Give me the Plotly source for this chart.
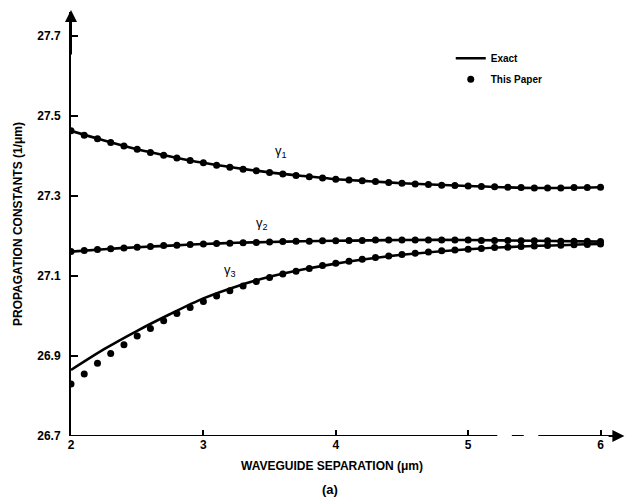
import plotly.graph_objects as go

# ---- data ----
x_dots = [round(2.0 + 0.1 * i, 1) for i in range(41)]

g1_dots = [27.463, 27.452, 27.443, 27.434, 27.425, 27.417, 27.409, 27.402, 27.395, 27.389,
           27.383, 27.377, 27.372, 27.367, 27.363, 27.359, 27.355, 27.351, 27.348, 27.345,
           27.342, 27.340, 27.338, 27.336, 27.334, 27.332, 27.330, 27.329, 27.327, 27.326,
           27.325, 27.324, 27.323, 27.322, 27.321, 27.320, 27.320, 27.320, 27.321, 27.321,
           27.322]
g2_dots = [27.161, 27.164, 27.166, 27.168, 27.170, 27.172, 27.174, 27.176, 27.177, 27.179,
           27.180, 27.181, 27.182, 27.183, 27.184, 27.185, 27.186, 27.187, 27.187, 27.188,
           27.188, 27.189, 27.189, 27.190, 27.190, 27.190, 27.190, 27.190, 27.190, 27.190,
           27.190, 27.189, 27.189, 27.189, 27.188, 27.188, 27.188, 27.187, 27.187, 27.187,
           27.186]
g3_dots = [26.830, 26.855, 26.882, 26.906, 26.928, 26.950, 26.969, 26.988, 27.006, 27.021,
           27.036, 27.050, 27.063, 27.075, 27.086, 27.096, 27.105, 27.112, 27.119, 27.126,
           27.132, 27.137, 27.142, 27.146, 27.150, 27.154, 27.157, 27.160, 27.163, 27.165,
           27.167, 27.169, 27.171, 27.172, 27.174, 27.175, 27.176, 27.177, 27.178, 27.179,
           27.180]

x_exact = [2.0, 2.25, 2.5, 2.75, 3.0, 3.25, 3.5, 3.75, 4.0, 4.25, 4.5, 5.0, 5.5, 6.0]
g1_exact = [27.463, 27.439, 27.417, 27.399, 27.383, 27.370, 27.359, 27.350, 27.342, 27.337,
            27.332, 27.325, 27.320, 27.322]
g2_exact = [27.161, 27.167, 27.172, 27.176, 27.180, 27.183, 27.185, 27.187, 27.188, 27.189,
            27.190, 27.190, 27.188, 27.186]
g3_exact = [26.865, 26.917, 26.963, 27.005, 27.044, 27.074, 27.098, 27.116, 27.131, 27.143,
            27.153, 27.167, 27.175, 27.180]

x_ticks = [2, 3, 4, 5, 6]
y_ticks = [26.7, 26.9, 27.1, 27.3, 27.5, 27.7]
y_tick_text = ["26.7", "26.9", "27.1", "27.3", "27.5", "27.7"]

curve_labels = ["γ<sub>1</sub>", "γ<sub>2</sub>", "γ<sub>3</sub>"]
label_x = [3.59, 3.44, 3.20]
label_y = [27.412, 27.232, 27.115]

# x-axis drawn with a break between 5.22 and 5.53
axis_segments = [(2.0, 5.22), (5.33, 5.42), (5.53, 6.16)]

FONT = "Liberation Sans"

fig = go.Figure()

exact_sets = [g1_exact, g2_exact, g3_exact]
dot_sets = [g1_dots, g2_dots, g3_dots]

for i, ys in enumerate(exact_sets):
    fig.add_trace(go.Scatter(
        x=x_exact, y=ys, mode="lines",
        line=dict(color="black", width=2.6, shape="spline", smoothing=0.8),
        name="Exact", legendgroup="exact", showlegend=(i == 0)))

for i, ys in enumerate(dot_sets):
    fig.add_trace(go.Scatter(
        x=x_dots, y=ys, mode="markers", marker=dict(color="black", size=7),
        name="This Paper", legendgroup="paper", showlegend=(i == 0)))

for t, lx, ly in zip(curve_labels, label_x, label_y):
    fig.add_annotation(x=lx, y=ly, text=t, showarrow=False,
                       font=dict(family=FONT, size=13, color="black"))

for x0, x1 in axis_segments:
    fig.add_shape(type="line", x0=x0, x1=x1, y0=26.7, y1=26.7, xref="x", yref="y",
                  line=dict(color="black", width=2))

# arrowheads on the axes
fig.add_annotation(x=6.18, y=26.7, ax=6.05, ay=26.7, axref="x", ayref="y", xref="x", yref="y",
                   text="", showarrow=True, arrowhead=2, arrowsize=1.2, arrowwidth=2,
                   arrowcolor="black")
fig.add_annotation(x=2.0, y=27.765, ax=2.0, ay=27.65, axref="x", ayref="y", xref="x", yref="y",
                   text="", showarrow=True, arrowhead=2, arrowsize=1.2, arrowwidth=2,
                   arrowcolor="black")

fig.add_annotation(x=0.469, y=-0.07, xref="paper", yref="paper", yanchor="middle",
                   text="WAVEGUIDE SEPARATION (μm)", showarrow=False,
                   font=dict(family=FONT, size=12, color="black", weight="bold"))
fig.add_annotation(x=0.466, y=-0.127, xref="paper", yref="paper", yanchor="middle",
                   text="(a)", showarrow=False,
                   font=dict(family=FONT, size=13, color="black", weight="bold"))

fig.update_xaxes(range=[2, 6.2], tickvals=x_ticks, ticktext=[str(v) for v in x_ticks],
                 ticks="inside", ticklen=6, tickwidth=1.5, tickcolor="black",
                 showline=False, showgrid=False, zeroline=False, automargin=False,
                 tickfont=dict(family=FONT, size=12, color="black", weight="bold"))
fig.update_yaxes(range=[26.7, 27.76], tickvals=y_ticks, ticktext=y_tick_text,
                 ticks="inside", ticklen=7, tickwidth=2, tickcolor="black",
                 showline=True, linecolor="black", linewidth=2, automargin=False,
                 showgrid=False, zeroline=False, ticklabelstandoff=6,
                 tickfont=dict(family=FONT, size=12, color="black", weight="bold"),
                 title=dict(text="PROPAGATION CONSTANTS (1/μm)", standoff=12,
                            font=dict(family=FONT, size=12, color="black", weight="bold")))

fig.update_layout(
    width=631, height=503,
    margin=dict(l=71, r=4, t=12, b=67),
    paper_bgcolor="white", plot_bgcolor="white",
    showlegend=True,
    legend=dict(x=0.683, y=0.925, xanchor="left", yanchor="top",
                bgcolor="rgba(0,0,0,0)", tracegroupgap=2,
                font=dict(family=FONT, size=10, color="black", weight="bold")),
)

fig.write_html("out.html", config={"displayModeBar": False},
               post_script="document.body.style.margin='0';document.body.style.overflow='hidden';")
